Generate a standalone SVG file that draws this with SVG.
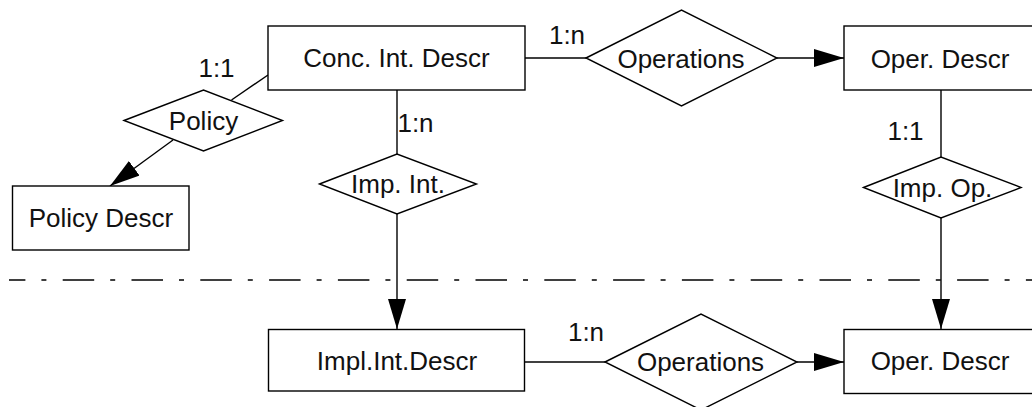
<svg xmlns="http://www.w3.org/2000/svg" width="1032" height="407" viewBox="0 0 1032 407">
  <style>
    .box { fill: #fff; stroke: #000; stroke-width: 1.4; }
    .rel { fill: #fff; stroke: #000; stroke-width: 1.4; }
    .edge { fill: none; stroke: #000; stroke-width: 1.4; }
    .arrow { marker-end: url(#head); }
    .lbl { font-family: "Liberation Sans", Arial, sans-serif; font-size: 26px; fill: #111; text-anchor: middle; }
    .sep { fill: none; stroke: #000; stroke-width: 1.3; stroke-dasharray: 31.5 16 5 16.3; stroke-dashoffset: 15.1; }
  </style>
  <defs>
    <marker id="head" markerUnits="userSpaceOnUse" markerWidth="31" markerHeight="18" refX="30" refY="9" orient="auto">
      <path d="M0,0 L30,9 L0,18 z" fill="#000"/>
    </marker>
  </defs>
  <rect width="1032" height="407" fill="#fff"/>

  <!-- boundary between conceptual and implementation layers -->
  <line class="sep" x1="9" y1="280" x2="1040" y2="280"/>

  <g id="connectors">
    <line class="edge" x1="268" y1="75" x2="231.5" y2="100"/>
    <line class="edge arrow" x1="173" y1="140" x2="110" y2="186"/>
    <line class="edge" x1="525" y1="58" x2="586" y2="58"/>
    <line class="edge arrow" x1="777" y1="58" x2="844" y2="58"/>
    <line class="edge" x1="397" y1="90" x2="397" y2="154"/>
    <line class="edge arrow" x1="397" y1="214" x2="397" y2="329"/>
    <line class="edge" x1="941" y1="90" x2="941" y2="157"/>
    <line class="edge arrow" x1="941" y1="218" x2="941" y2="329"/>
    <line class="edge" x1="524" y1="362" x2="605" y2="362"/>
    <line class="edge arrow" x1="797" y1="362" x2="844" y2="362"/>
    <text class="lbl" x="216.5" y="77">1:1</text>
    <text class="lbl" x="567" y="44">1:n</text>
    <text class="lbl" x="415.5" y="132">1:n</text>
    <text class="lbl" x="905.5" y="140">1:1</text>
    <text class="lbl" x="586" y="341">1:n</text>
  </g>

  <g id="conc-int-descr">
    <rect class="box" x="268" y="26" width="257" height="64"/>
    <text class="lbl" x="396.5" y="67">Conc. Int. Descr</text>
  </g>

  <g id="policy">
    <polygon class="rel" points="124,120.5 203.5,90 282.5,120.5 203.5,151"/>
    <text class="lbl" x="203.5" y="130">Policy</text>
  </g>

  <g id="policy-descr">
    <rect class="box" x="12.5" y="186" width="176.5" height="64"/>
    <text class="lbl" x="101" y="227">Policy Descr</text>
  </g>

  <g id="operations-top">
    <polygon class="rel" points="586,58 681.5,10 777,58 681.5,106"/>
    <text class="lbl" x="681" y="67.5">Operations</text>
  </g>

  <g id="oper-descr-top">
    <rect class="box" x="844" y="26" width="194" height="64"/>
    <text class="lbl" x="940" y="67.5">Oper. Descr</text>
  </g>

  <g id="imp-int">
    <polygon class="rel" points="319.5,184 397,154 476.5,184 397,214"/>
    <text class="lbl" x="398" y="192.5">Imp. Int.</text>
  </g>

  <g id="imp-op">
    <polygon class="rel" points="863.5,187.5 941,157 1021,187.5 941,218"/>
    <text class="lbl" x="942.5" y="196.5">Imp. Op.</text>
  </g>

  <g id="impl-int-descr">
    <rect class="box" x="268.5" y="329.5" width="256" height="61.5"/>
    <text class="lbl" x="397" y="369.5">Impl.Int.Descr</text>
  </g>

  <g id="operations-bottom">
    <polygon class="rel" points="605,362 701,314 797,362 701,410"/>
    <text class="lbl" x="700.5" y="370.5">Operations</text>
  </g>

  <g id="oper-descr-bottom">
    <rect class="box" x="844" y="329.5" width="194" height="64"/>
    <text class="lbl" x="940" y="370">Oper. Descr</text>
  </g>
</svg>
